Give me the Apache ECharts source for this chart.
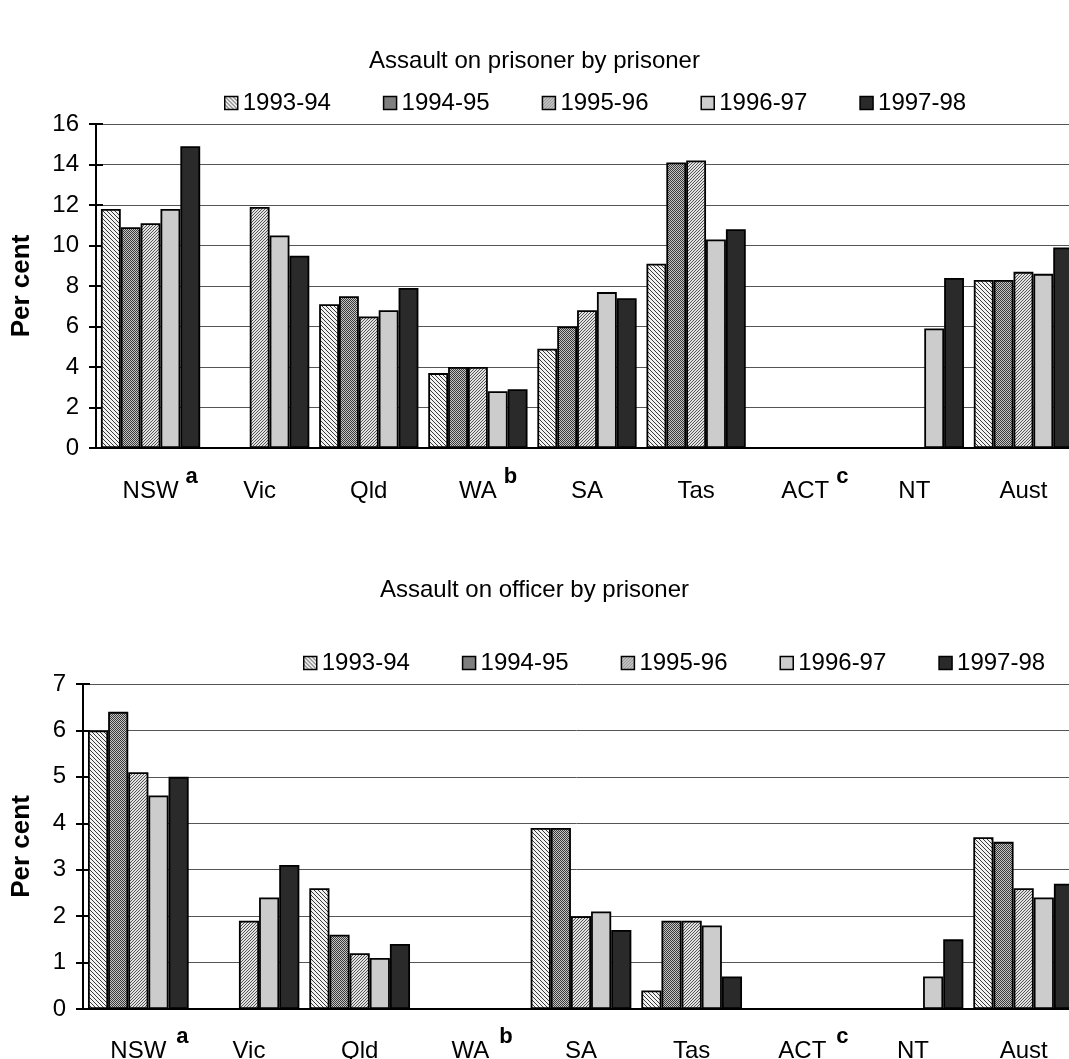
<!DOCTYPE html>
<html><head><meta charset="utf-8">
<script src="https://cdn.jsdelivr.net/npm/echarts@6/dist/echarts.min.js"></script>
<style>html,body{margin:0;padding:0;background:#fff}#c{width:1069px;height:1059px}</style>
</head><body><div id="c"></div>
<script>
const categories = ['NSW','Vic','Qld','WA','SA','Tas','ACT','NT','Aust'];
const notes = ['a','','','b','','','c','',''];
const years = ['1993-94','1994-95','1995-96','1996-97','1997-98'];
const yTicks1 = {min:0, max:16, interval:2};
const yTicks2 = {min:0, max:7, interval:1};
const title1 = 'Assault on prisoner by prisoner';
const title2 = 'Assault on officer by prisoner';
const yName = 'Per cent';

// Assault on prisoner by prisoner
const p9394 = [11.8, null, 7.1, 3.7, 4.9, 9.1, null, null, 8.3];
const p9495 = [10.9, null, 7.5, 4.0, 6.0, 14.1, null, null, 8.3];
const p9596 = [11.1, 11.9, 6.5, 4.0, 6.8, 14.2, null, null, 8.7];
const p9697 = [11.8, 10.5, 6.8, 2.8, 7.7, 10.3, null, 5.9, 8.6];
const p9798 = [14.9, 9.5, 7.9, 2.9, 7.4, 10.8, null, 8.4, 9.9];
// Assault on officer by prisoner
const o9394 = [6.0, null, 2.6, null, 3.9, 0.4, null, null, 3.7];
const o9495 = [6.4, null, 1.6, null, 3.9, 1.9, null, null, 3.6];
const o9596 = [5.1, 1.9, 1.2, null, 2.0, 1.9, null, null, 2.6];
const o9697 = [4.6, 2.4, 1.1, null, 2.1, 1.8, null, 0.7, 2.4];
const o9798 = [5.0, 3.1, 1.4, null, 1.7, 0.7, null, 1.5, 2.7];

const FONT = 'Liberation Sans, Arial, sans-serif';

function pat(size, bg, fg, pts) {
  const c = document.createElement('canvas');
  c.width = c.height = size;
  const g = c.getContext('2d');
  g.fillStyle = bg; g.fillRect(0, 0, size, size);
  g.fillStyle = fg;
  pts.forEach(p => g.fillRect(p[0], p[1], 1, 1));
  return {image: c, repeat: 'repeat'};
}
const fills = [
  pat(4, '#f2f2f2', '#3a3a3a', [[0,0],[1,1],[2,2],[3,3]]),
  pat(2, '#c4c4c4', '#3a3a3a', [[0,0],[1,1]]),
  pat(3, '#e2e2e2', '#555555', [[2,0],[1,1],[0,2]]),
  '#cccccc',
  '#2a2a2a'
];

function richStyles(gap) {
  return {
    n: {fontSize: 24, lineHeight: 24, color: '#000', verticalAlign: 'bottom', fontFamily: FONT},
    s: {fontSize: 22, fontWeight: 'bold', lineHeight: 24, color: '#000', padding: [0,0,15,gap], verticalAlign: 'bottom', fontFamily: FONT},
    p: {fontSize: 22, fontWeight: 'bold', lineHeight: 24, color: 'rgba(0,0,0,0)', padding: [0,gap,15,0], verticalAlign: 'bottom', fontFamily: FONT},
    h: {fontSize: 22, fontWeight: 'bold', lineHeight: 24, color: 'rgba(0,0,0,0)', padding: [0,0,15,gap], verticalAlign: 'bottom', fontFamily: FONT}
  };
}
function catFormatter(v, i) {
  const idx = categories.indexOf(v);
  const note = notes[idx];
  if (note) return '{p|' + note + '}{n|' + v + '}{s|' + note + '}';
  return '{p|a}{n|' + v + '}{h|a}';
}

function xAxis(gi, gap, margin) {
  return {
    type: 'category', gridIndex: gi, data: categories,
    axisLine: {lineStyle: {color: '#000', width: 2}},
    axisTick: {length: 8, lineStyle: {color: '#000', width: 2}},
    axisLabel: {interval: 0, margin: margin, formatter: catFormatter, rich: richStyles(gap)}
  };
}
// companion axis drawing the inner half of the crossing ticks
function xAxisInner(gi) {
  return {
    type: 'category', gridIndex: gi, data: categories, position: 'bottom',
    axisLine: {show: false},
    axisTick: {inside: true, length: 7, lineStyle: {color: '#000', width: 2}},
    axisLabel: {show: false}, splitLine: {show: false}
  };
}
function yAxis(gi, t, nameGap) {
  return {
    type: 'value', gridIndex: gi, min: t.min, max: t.max, interval: t.interval,
    axisLine: {show: true, lineStyle: {color: '#000', width: 2}},
    axisTick: {show: true, length: 7, lineStyle: {color: '#000', width: 2}},
    axisLabel: {fontSize: 24, color: '#000', margin: 17, fontFamily: FONT},
    splitLine: {lineStyle: {color: '#555', width: 1}},
    name: yName, nameLocation: 'middle', nameRotate: 90, nameGap: nameGap,
    nameTextStyle: {fontSize: 26, fontWeight: 'bold', color: '#000', fontFamily: FONT}
  };
}
function yAxisInner(gi, t) {
  return {
    type: 'value', gridIndex: gi, min: t.min, max: t.max, interval: t.interval, position: 'left',
    axisLine: {show: false},
    axisTick: {show: true, inside: true, length: 7, lineStyle: {color: '#000', width: 2}},
    axisLabel: {show: false}, splitLine: {show: false}
  };
}
function series(gi, arrs) {
  return arrs.map((d, k) => ({
    type: 'bar', name: years[k], xAxisIndex: gi, yAxisIndex: gi, data: d,
    barGap: '0%', barCategoryGap: '9%',
    itemStyle: {color: fills[k], borderColor: '#000', borderWidth: 1.8},
    emphasis: {disabled: true}
  }));
}
function legend(top, left) {
  return {
    top: top, left: left, padding: 0, itemGap: 52, itemWidth: 13, itemHeight: 13,
    icon: 'rect', data: years,
    itemStyle: {borderColor: '#000', borderWidth: 1.5},
    textStyle: {fontSize: 24, color: '#000', fontFamily: FONT}
  };
}

const chart = echarts.init(document.getElementById('c'), null, {renderer: 'canvas'});
chart.setOption({
  animation: false,
  backgroundColor: '#fff',
  textStyle: {fontFamily: FONT},
  title: [
    {text: title1, left: 'center', top: 49, padding: 0, textStyle: {fontSize: 24, fontWeight: 'normal', color: '#000', fontFamily: FONT}},
    {text: title2, left: 'center', top: 578, padding: 0, textStyle: {fontSize: 24, fontWeight: 'normal', color: '#000', fontFamily: FONT}}
  ],
  legend: [legend(91, 224), legend(651, 303)],
  grid: [
    {left: 96, top: 124, width: 982, height: 324, outerBoundsMode: 'none', containLabel: false},
    {left: 83, top: 684, width: 996, height: 325, outerBoundsMode: 'none', containLabel: false}
  ],
  xAxis: [xAxis(0, 7, 31), xAxis(1, 10, 30), xAxisInner(0), xAxisInner(1)],
  yAxis: [yAxis(0, yTicks1, 61), yAxis(1, yTicks2, 48), yAxisInner(0, yTicks1), yAxisInner(1, yTicks2)],
  series: series(0, [p9394, p9495, p9596, p9697, p9798]).concat(series(1, [o9394, o9495, o9596, o9697, o9798]))
});
</script></body></html>
